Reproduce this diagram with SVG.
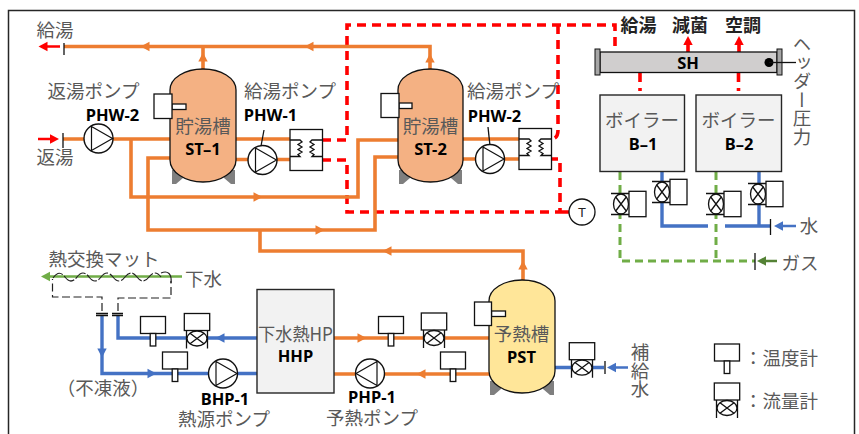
<svg xmlns="http://www.w3.org/2000/svg" xmlns:xlink="http://www.w3.org/1999/xlink" width="859" height="434" viewBox="0 0 859 434">
<style>
text{font-family:"Noto Sans CJK JP","Noto Sans",sans-serif;font-size:18.500px;fill:#595959;text-anchor:middle}
.b{font-family:"Noto Sans","Noto Sans CJK JP",sans-serif;font-weight:700;font-size:16.500px;fill:#000}
.jb{font-weight:700;fill:#222;font-size:18px}
.v{writing-mode:vertical-rl;text-anchor:start}
.or{fill:none;stroke:#ED7D31;stroke-width:3.600}
.bl{fill:none;stroke:#4472C4;stroke-width:3.400}
.rd{fill:none;stroke:#FF0000;stroke-width:3.600;stroke-dasharray:9 6}
.gr{fill:none;stroke:#70AD47;stroke-width:3;stroke-dasharray:8 5}
.ln{fill:none;stroke:#111;stroke-width:1.300}
.dsh{fill:none;stroke:#222;stroke-width:1.200;stroke-dasharray:8 3.500}
.box{fill:#fff;stroke:#111;stroke-width:1.300}
.eq{fill:#F2F2F2;stroke:#262626;stroke-width:1.400}
.leg{fill:#7F7F7F}
.fo{fill:#ED7D31}.fb{fill:#4472C4}.fr{fill:#FF0000}.fg{fill:#70AD47}.fd{fill:#548235}
</style>
<defs>
<path id="ah" d="M-4.500-4.700L4.500 0-4.500 4.700Z"/>
<g id="pump"><circle r="14.500" fill="#fff" stroke="#111" stroke-width="1.400"/><path d="M-7-12V12L14 0Z" fill="none" stroke="#111" stroke-width="1.200"/></g>
<g id="temp"><rect x="-12.500" y="-21.500" width="25" height="17" class="box"/><rect x="-2.800" y="-4.500" width="5.600" height="12.500" class="box"/></g>
<g id="flow"><rect x="-12.700" y="-25" width="25.400" height="17" class="box"/><ellipse rx="10" ry="7.500" fill="#fff" stroke="#111" stroke-width="1.300"/><path d="M-7-5.300L7 5.300M-7 5.300L7-5.300M-10.500-8V10M10.500-8V10" class="ln"/></g>
<g id="hx"><rect x="0" y="0" width="32.500" height="41" class="box"/><path d="M0 10.500H10l2 2-4 2.500 4 2.500-4 2.500 4 2.500-4 2.500 2 2H0M32.500 10.500H22l-2 2 4 2.500-4 2.500 4 2.500-4 2.500 4 2.500-2 2H32.500" class="ln"/></g>
</defs>
<rect width="859" height="434" fill="#fff"/>
<path d="M8.500 434V10.500H854.500V434" fill="none" stroke="#262626" stroke-width="1.500"/>

<g id="connectors">
<path class="rd" d="M322 140H347V25H615V52"/>
<path class="rd" d="M558 25V130Q558 139 551 139"/>
<path class="rd" d="M322 160H347V212H560V159H551M560 212H569"/>
<path class="rd" d="M688 52V45M739 52V45M640 73V91M738.500 73V91"/>
<path class="or" d="M64 46.500H430V70M203 46.500V70"/>
<path class="or" d="M63 139H85M112 139H170M131 139V197H358V140H398"/>
<path class="or" d="M170 158H148V230H375V157H398"/>
<path class="or" d="M236 139H290M236 159.500H290M463 139H519M463 159H519"/>
<path class="or" d="M260 230V251H523V281"/>
<path class="or" d="M334 338H489M334 374H489"/>
<path class="gr" d="M620 172V261H755M716 172V261"/>
<path d="M662 172V226H708M725 226H770M759 172V226" class="bl"/>
<path class="bl" d="M118 316V338H257M102 316V373.500H257"/>
<path class="bl" d="M555 367.500H604"/>
<path d="M45 276.500H182" fill="none" stroke="#70AD47" stroke-width="2.600"/>
<path class="dsh" d="M102 311V297H52.500V279M118 311V298H171V281"/>
<path d="M53 278q6-9 12-1t12 0 12 0 12 0 12 0 12 0 12 0 12 0 12 0" fill="none" stroke="#222" stroke-width="1.200" stroke-dasharray="12 2"/>
<path d="M161 273C168 270 172 274 171 283" fill="none" stroke="#222" stroke-width="1.200"/>
<path class="ln" d="M96 313.500H108M96 315.500H108M112 313.500H123M112 315.500H123"/>
<path class="ln" d="M64 43V55M63 133V148M770.500 219V235M755 253V270M605 361V374"/>
<path d="M60 46.500H42M38 139H52" fill="none" stroke="#FF0000" stroke-width="2.500"/>
<path d="M796 226H778M628 367.500H611" fill="none" stroke="#4472C4" stroke-width="2.500"/>
<path d="M777 261H761" fill="none" stroke="#548235" stroke-width="2.500"/>
<use xlink:href="#ah" class="fr" transform="translate(43 46.500) rotate(180)"/>
<use xlink:href="#ah" class="fr" transform="translate(54.500 139)"/>
<use xlink:href="#ah" class="fo" transform="translate(145 46.500) rotate(180)"/>
<use xlink:href="#ah" class="fo" transform="translate(309 46.500) rotate(180)"/>
<use xlink:href="#ah" class="fo" transform="translate(203 57) rotate(-90)"/>
<use xlink:href="#ah" class="fo" transform="translate(430 58) rotate(-90)"/>
<use xlink:href="#ah" class="fo" transform="translate(258 197)"/>
<use xlink:href="#ah" class="fo" transform="translate(320 230)"/>
<use xlink:href="#ah" class="fo" transform="translate(387 251) rotate(180)"/>
<use xlink:href="#ah" class="fo" transform="translate(523 265) rotate(-90)"/>
<use xlink:href="#ah" class="fo" transform="translate(362 338)"/>
<use xlink:href="#ah" class="fo" transform="translate(421 374) rotate(180)"/>
<use xlink:href="#ah" class="fr" transform="translate(688 40.500) rotate(-90)"/>
<use xlink:href="#ah" class="fr" transform="translate(739 40.500) rotate(-90)"/>
<use xlink:href="#ah" class="fb" transform="translate(778.500 226) rotate(180)"/>
<use xlink:href="#ah" class="fd" transform="translate(761.500 261) rotate(180)"/>
<use xlink:href="#ah" class="fb" transform="translate(102 353) rotate(90)"/>
<use xlink:href="#ah" class="fb" transform="translate(152 373.500)"/>
<use xlink:href="#ah" class="fb" transform="translate(220 338) rotate(180)"/>
<use xlink:href="#ah" class="fb" transform="translate(611.500 367.500) rotate(180)"/>
<use xlink:href="#ah" class="fg" transform="translate(45.500 276.500) rotate(180)"/>
</g>

<g id="label-kyuto"><text x="55" y="37">給湯</text></g>
<g id="label-henpo"><text x="55" y="164">返湯</text></g>

<g id="pump-phw2a"><use xlink:href="#pump" x="98.500" y="138.500"/><text x="93.500" y="98">返湯ポンプ</text><text class="b" x="112.500" y="121">PHW-2</text></g>

<g id="ST-1">
<path class="leg" d="M172 170H183V178L176 184H172ZM235 170H224V178L231 184H235Z"/>
<path d="M170 90C170 78 185 69 203 69 221 69 236 78 236 90V160C236 172 221 182 203 182 185 182 170 172 170 160Z" fill="#F4B183" stroke="#111" stroke-width="1.300"/>
<rect x="172" y="104" width="14" height="5.500" class="box"/><rect x="154" y="94" width="18" height="24.500" class="box"/>
<text x="203" y="133">貯湯槽</text><text class="b" x="203" y="155">ST–1</text>
</g>

<g id="pump-phw1"><path class="ln" d="M264 130L261 146"/><use xlink:href="#pump" x="262.500" y="160"/><text x="290" y="98">給湯ポンプ</text><text class="b" x="270.500" y="121">PHW-1</text></g>
<g id="hx-1"><use xlink:href="#hx" x="290" y="129.500"/></g>

<g id="ST-2">
<path class="leg" d="M399 170H410V178L403 184H399ZM462 170H451V178L458 184H462Z"/>
<path d="M398 90C398 78 412 69 430.500 69 449 69 463 78 463 90V160C463 172 449 182 430.500 182 412 182 398 172 398 160Z" fill="#F4B183" stroke="#111" stroke-width="1.300"/>
<rect x="399" y="103" width="13" height="5.500" class="box"/><rect x="381" y="93.500" width="18" height="24" class="box"/>
<text x="430.500" y="133">貯湯槽</text><text class="b" x="430.500" y="155">ST-2</text>
</g>

<g id="pump-phw2b"><path class="ln" d="M488 127L490 146"/><use xlink:href="#pump" x="490" y="159"/><text x="513" y="98">給湯ポンプ</text><text class="b" x="494.500" y="122">PHW-2</text></g>
<g id="hx-2"><use xlink:href="#hx" x="519" y="128.500"/></g>

<g id="T"><circle cx="582" cy="212" r="13" fill="#fff" stroke="#111" stroke-width="1.300"/><text x="582" y="217" style="font-family:'Liberation Sans',sans-serif;font-size:13px;fill:#222">T</text></g>

<g id="targets"><text class="jb" x="638.500" y="32">給湯</text><text class="jb" x="690" y="32">減菌</text><text class="jb" x="743" y="32">空調</text></g>

<g id="SH">
<rect x="600" y="52" width="177" height="20.500" fill="#D0CECE" stroke="#111" stroke-width="1.300"/>
<rect x="595" y="49" width="5" height="26" fill="#A6A6A6" stroke="#111"/><rect x="777" y="49" width="5" height="26" fill="#A6A6A6" stroke="#111"/>
<text class="b" x="688" y="69">SH</text>
<circle cx="769" cy="62.500" r="4.500" fill="#000"/><path class="ln" d="M769 62.500H796"/>
<text class="v" x="802" y="35">ヘッダー圧力</text>
</g>

<g id="B-1"><rect x="600" y="95" width="84.500" height="76.500" class="eq"/><text x="642" y="127">ボイラー</text><text class="b" x="643" y="150">B–1</text></g>
<g id="B-2"><rect x="696" y="95" width="85.500" height="76.500" class="eq"/><text x="738.500" y="127">ボイラー</text><text class="b" x="739" y="150">B–2</text></g>

<g id="meters-boiler">
<use xlink:href="#flow" transform="translate(621 204) rotate(90)"/>
<use xlink:href="#flow" transform="translate(662 192) rotate(90)"/>
<use xlink:href="#flow" transform="translate(716 204) rotate(90)"/>
<use xlink:href="#flow" transform="translate(758 194) rotate(90)"/>
</g>
<g id="label-water"><text x="809" y="233">水</text></g>
<g id="label-gas"><text x="800" y="270">ガス</text></g>

<g id="mat"><text x="104" y="266">熱交換マット</text><text x="203.500" y="286">下水</text><text x="103" y="395">（不凍液）</text></g>

<g id="bhp-meters"><use xlink:href="#temp" x="153" y="338"/><use xlink:href="#flow" x="197" y="338.500"/><use xlink:href="#temp" x="175" y="373.500"/></g>
<g id="BHP-1"><use xlink:href="#pump" x="223" y="373.500"/><text class="b" x="225" y="405">BHP-1</text><text x="224" y="426">熱源ポンプ</text></g>

<g id="HHP"><rect x="257" y="289.500" width="77" height="103.500" class="eq"/><text x="295.500" y="340.500" textLength="75" lengthAdjust="spacingAndGlyphs">下水熱HP</text><text class="b" x="295.500" y="362">HHP</text></g>

<g id="php-meters"><use xlink:href="#temp" x="391" y="338"/><use xlink:href="#flow" x="434" y="338"/><use xlink:href="#temp" x="453" y="373.500"/></g>
<g id="PHP-1"><use xlink:href="#pump" transform="translate(370 373.500) scale(-1 1)"/><text class="b" x="372" y="403">PHP-1</text><text x="372" y="425">予熱ポンプ</text></g>

<g id="PST">
<path class="leg" d="M490 381H501V389L494 395H490ZM554 381H543V389L550 395H554Z"/>
<path d="M489 301C489 289 504 280 522 280 540 280 555 289 555 301V371C555 383 540 393 522 393 504 393 489 383 489 371Z" fill="#FFE699" stroke="#111" stroke-width="1.300"/>
<rect x="491.500" y="311" width="14" height="5.500" class="box"/><rect x="474.500" y="302" width="17" height="23.500" class="box"/>
<text x="521.500" y="341">予熱槽</text><text class="b" x="521.500" y="363">PST</text>
</g>

<g id="makeup"><use xlink:href="#flow" x="582" y="367.700"/><text class="v" x="640" y="343">補給水</text></g>

<g id="legend">
<use xlink:href="#temp" x="727" y="365.500"/><text x="781" y="365">：温度計</text>
<use xlink:href="#flow" x="727" y="408"/><text x="781" y="408">：流量計</text>
</g>
</svg>
